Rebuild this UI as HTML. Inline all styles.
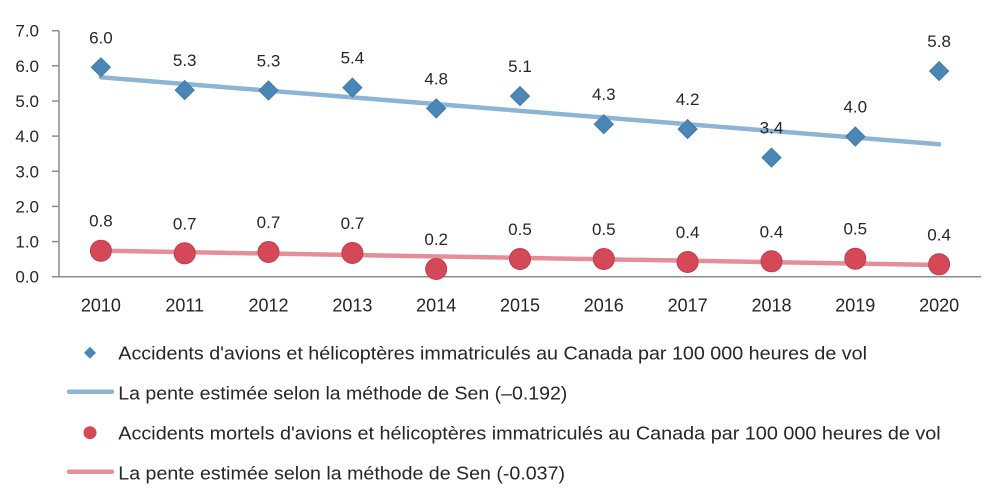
<!DOCTYPE html>
<html>
<head>
<meta charset="utf-8">
<style>
  html,body{margin:0;padding:0;background:#fff;}
  svg{display:block;}
  text{font-family:"Liberation Sans",sans-serif;fill:#262626;}
</style>
</head>
<body>
<svg width="1000" height="493" viewBox="0 0 1000 493" xmlns="http://www.w3.org/2000/svg">
  <!-- axes -->
  <g stroke="#8c8c8c" stroke-width="1.5" fill="none">
    <line x1="59" y1="30.7" x2="59" y2="276.7"/>
    <line x1="52" y1="276.7" x2="981" y2="276.7"/>
    <line x1="52" y1="30.7" x2="59" y2="30.7"/>
    <line x1="52" y1="65.8" x2="59" y2="65.8"/>
    <line x1="52" y1="101" x2="59" y2="101"/>
    <line x1="52" y1="136.1" x2="59" y2="136.1"/>
    <line x1="52" y1="171.3" x2="59" y2="171.3"/>
    <line x1="52" y1="206.4" x2="59" y2="206.4"/>
    <line x1="52" y1="241.6" x2="59" y2="241.6"/>
  </g>
  <!-- y labels -->
  <g font-size="17" text-anchor="end">
    <text x="39" y="36.7">7.0</text>
    <text x="39" y="71.8">6.0</text>
    <text x="39" y="107">5.0</text>
    <text x="39" y="142.1">4.0</text>
    <text x="39" y="177.3">3.0</text>
    <text x="39" y="212.4">2.0</text>
    <text x="39" y="247.6">1.0</text>
    <text x="39" y="282.7">0.0</text>
  </g>
  <!-- x labels -->
  <g font-size="18" text-anchor="middle">
    <text x="100.9" y="311.5">2010</text>
    <text x="184.7" y="311.5">2011</text>
    <text x="268.5" y="311.5">2012</text>
    <text x="352.4" y="311.5">2013</text>
    <text x="436.2" y="311.5">2014</text>
    <text x="520" y="311.5">2015</text>
    <text x="603.8" y="311.5">2016</text>
    <text x="687.6" y="311.5">2017</text>
    <text x="771.5" y="311.5">2018</text>
    <text x="855.3" y="311.5">2019</text>
    <text x="939.1" y="311.5">2020</text>
  </g>
  <!-- trend lines -->
  <line x1="100.9" y1="77.3" x2="939.1" y2="144.3" stroke="#8cb5d5" stroke-width="4.5" stroke-linecap="round"/>
  <line x1="100.9" y1="250.7" x2="939.1" y2="265" stroke="#e58e9a" stroke-width="4.5" stroke-linecap="round"/>
  <!-- blue diamonds -->
  <g fill="#4a87b7" stroke="#3f7aa8" stroke-width="1">
    <polygon points="100.9,57.8 110.4,67.3 100.9,76.8 91.4,67.3"/>
    <polygon points="184.7,80.6 194.2,90.1 184.7,99.6 175.2,90.1"/>
    <polygon points="268.5,81 278,90.5 268.5,100 259,90.5"/>
    <polygon points="352.4,78.1 361.9,87.6 352.4,97.1 342.9,87.6"/>
    <polygon points="436.2,98.9 445.7,108.4 436.2,117.9 426.7,108.4"/>
    <polygon points="520,86.6 529.5,96.1 520,105.6 510.5,96.1"/>
    <polygon points="603.8,114.7 613.3,124.2 603.8,133.7 594.3,124.2"/>
    <polygon points="687.6,119.6 697.1,129.1 687.6,138.6 678.1,129.1"/>
    <polygon points="771.5,148.1 781,157.6 771.5,167.1 762,157.6"/>
    <polygon points="855.3,127 864.8,136.5 855.3,146 845.8,136.5"/>
    <polygon points="939.1,61.6 948.6,71.1 939.1,80.6 929.6,71.1"/>
  </g>
  <!-- red circles -->
  <g fill="#d44858" stroke="#c23c4c" stroke-width="1">
    <circle cx="100.9" cy="250.7" r="10.5"/>
    <circle cx="184.7" cy="253.3" r="10.5"/>
    <circle cx="268.5" cy="252" r="10.5"/>
    <circle cx="352.4" cy="253" r="10.5"/>
    <circle cx="436.2" cy="269" r="10.5"/>
    <circle cx="520" cy="259" r="10.5"/>
    <circle cx="603.8" cy="259" r="10.5"/>
    <circle cx="687.6" cy="262" r="10.5"/>
    <circle cx="771.5" cy="261.3" r="10.5"/>
    <circle cx="855.3" cy="258.7" r="10.5"/>
    <circle cx="939.1" cy="264.3" r="10.5"/>
  </g>
  <!-- data labels -->
  <g font-size="17" text-anchor="middle">
    <text x="100.9" y="43.3">6.0</text>
    <text x="184.7" y="66.1">5.3</text>
    <text x="268.5" y="66.5">5.3</text>
    <text x="352.4" y="63.6">5.4</text>
    <text x="436.2" y="84.4">4.8</text>
    <text x="520" y="72.1">5.1</text>
    <text x="603.8" y="100.2">4.3</text>
    <text x="687.6" y="105.1">4.2</text>
    <text x="771.5" y="133.6">3.4</text>
    <text x="855.3" y="112.5">4.0</text>
    <text x="939.1" y="47.1">5.8</text>

    <text x="100.9" y="226.7">0.8</text>
    <text x="184.7" y="229.3">0.7</text>
    <text x="268.5" y="228">0.7</text>
    <text x="352.4" y="229">0.7</text>
    <text x="436.2" y="245">0.2</text>
    <text x="520" y="235">0.5</text>
    <text x="603.8" y="235">0.5</text>
    <text x="687.6" y="238">0.4</text>
    <text x="771.5" y="237.3">0.4</text>
    <text x="855.3" y="234.7">0.5</text>
    <text x="939.1" y="240.3">0.4</text>
  </g>
  <!-- legend -->
  <polygon points="90,346.7 96,352.7 90,358.7 84,352.7" fill="#4a87b7"/>
  <line x1="69" y1="391.7" x2="112" y2="391.7" stroke="#8cb5d5" stroke-width="4.5" stroke-linecap="round"/>
  <circle cx="90" cy="432.7" r="6.5" fill="#d44858"/>
  <line x1="69" y1="471.7" x2="112" y2="471.7" stroke="#e58e9a" stroke-width="4.5" stroke-linecap="round"/>
  <g font-size="18">
    <text x="118.3" y="359.3" textLength="748.7" lengthAdjust="spacingAndGlyphs">Accidents d'avions et hélicoptères immatriculés au Canada par 100 000 heures de vol</text>
    <text x="118.3" y="399.3" textLength="449" lengthAdjust="spacingAndGlyphs">La pente estimée selon la méthode de Sen (–0.192)</text>
    <text x="118.3" y="439.3" textLength="822.4" lengthAdjust="spacingAndGlyphs">Accidents mortels d'avions et hélicoptères immatriculés au Canada par 100 000 heures de vol</text>
    <text x="118.3" y="479.3" textLength="446.7" lengthAdjust="spacingAndGlyphs">La pente estimée selon la méthode de Sen (-0.037)</text>
  </g>
</svg>
</body>
</html>
